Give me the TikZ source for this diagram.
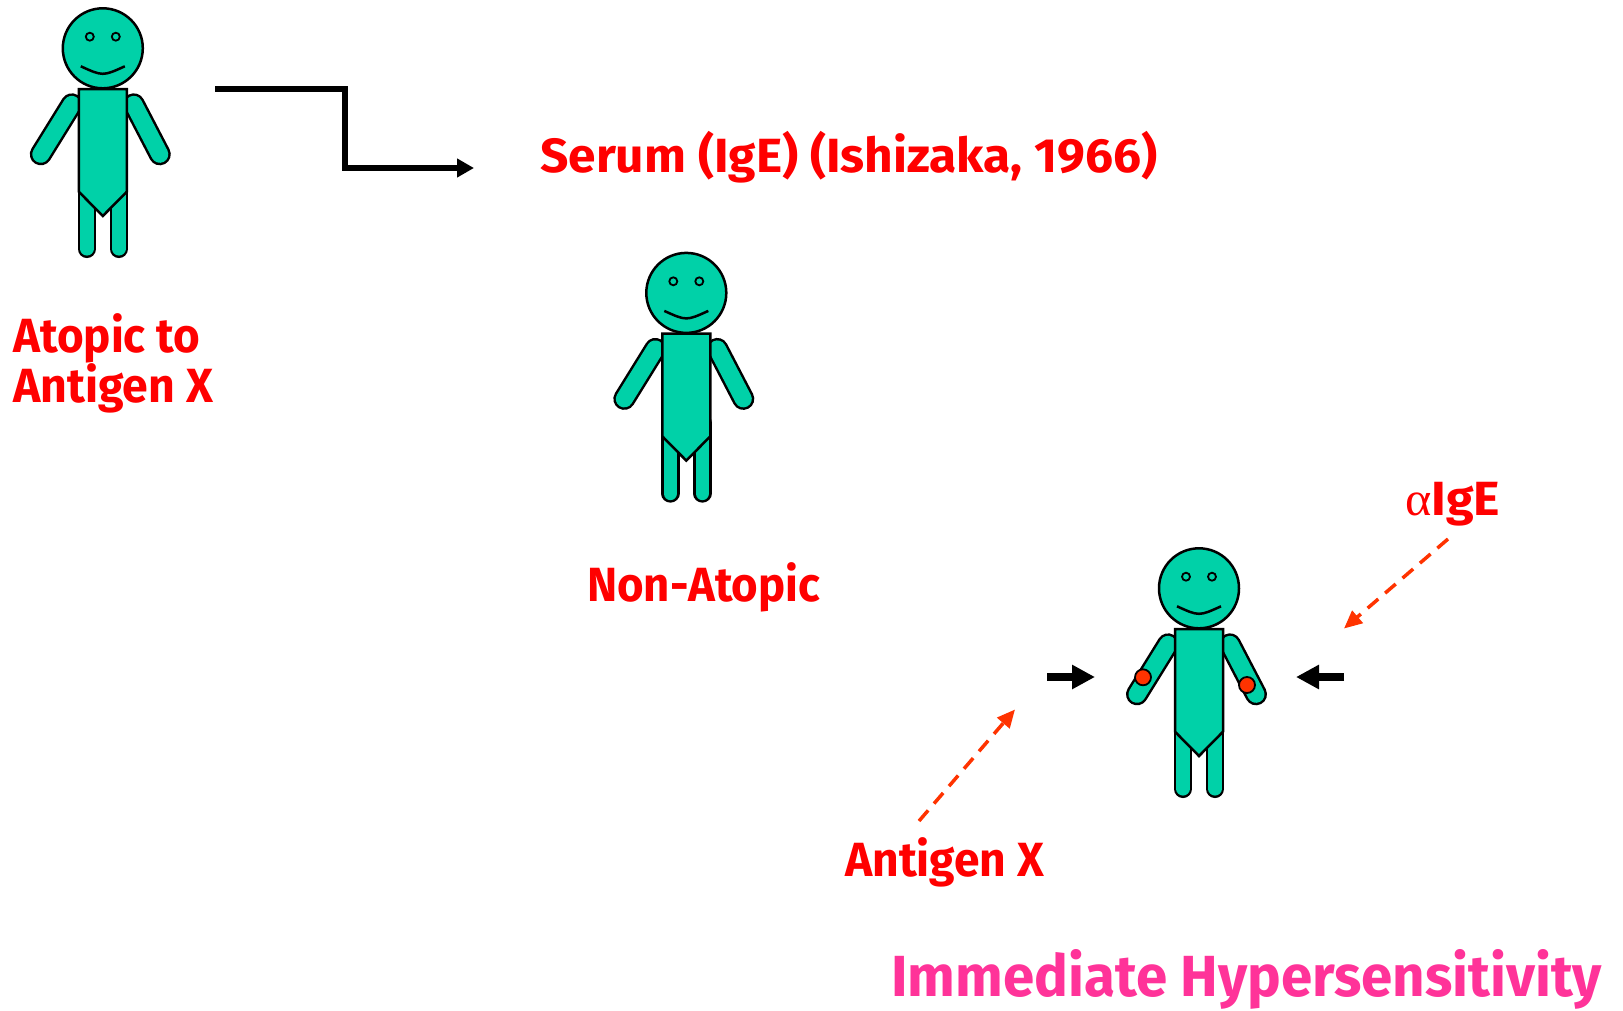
\documentclass[tikz,border=0pt]{standalone}
\usepackage{fontspec}
\setmainfont{Fira Sans}
\newfontfamily\greekfont{Liberation Serif}
\usetikzlibrary{arrows.meta}

\definecolor{skin}{RGB}{0,209,168}
\definecolor{spot}{RGB}{255,51,0}
\definecolor{lblred}{RGB}{255,0,0}
\definecolor{dashred}{RGB}{255,51,0}
\definecolor{titlepink}{RGB}{255,51,153}

% fit a text to a given width, keeping its natural height
\newcommand\fitw[2]{\resizebox{#1pt}{\height}{#2}}

% one limb: black outline under a skin-coloured stroke
\newcommand\limb[4]{%
  \draw[line width=#3pt, line cap=round, black] #1 -- #2;
  \draw[line width=#4pt, line cap=round, skin] #1 -- #2;}

% a smiling stick person; #1,#2 = centre of the head, #3 = 1 for spots on the wrists
\newcommand\drawperson[3]{%
  \begin{scope}[shift={(#1,#2)}]
    \limb{(-31,56)}{(-62,106)}{22}{17}
    \limb{(31,56)}{(57,106)}{22}{17}
    \limb{(-16,130)}{(-16,200.5)}{18.5}{13.5}
    \limb{(16,130)}{(16,200.5)}{18.5}{13.5}
    \filldraw[fill=skin, line width=2.5pt] (0,0) circle (40);
    \filldraw[fill=skin, line width=2.5pt, line join=miter]
      (-24,40.7) -- (24,40.7) -- (24,143.4) -- (0,167.7) -- (-24,143.4) -- cycle;
    \draw[line width=1.8pt] (-13,-11.6) circle (4) (13,-11.6) circle (4);
    \draw[line width=2.5pt] (-22,18) .. controls (0,28) .. (22,18);
    \ifnum#3=1
      \filldraw[fill=spot, line width=1.8pt] (-56,89) circle (8);
      \filldraw[fill=spot, line width=1.8pt] (48,96.7) circle (8);
    \fi
  \end{scope}}

\begin{document}
\begin{tikzpicture}[x=1pt, y=-1pt,
  lbl/.style={inner sep=0pt, anchor=base west, text=lblred,
    font=\bfseries\fontsize{48}{50}\selectfont},
  title/.style={inner sep=0pt, anchor=base west, text=titlepink,
    font=\bfseries\fontsize{58}{60}\selectfont},
  steparrow/.style={line width=6pt, line join=miter,
    -{Triangle[length=17pt, width=18pt]}},
  pusharrow/.style={line width=8.7pt, -{Triangle[length=23pt, width=23pt]}},
  dasharrow/.style={dashred, line width=3.5pt, dash pattern=on 14pt off 9pt,
    -{Triangle[length=18pt, width=16pt]}}]
\useasboundingbox (0,0) rectangle (1623,1010);

% three persons
\drawperson{102.8}{48.3}{0}
\drawperson{686.3}{292.9}{0}
\drawperson{1199}{588.3}{1}

% labels
\node[lbl] (atopic1) at (13,352) {\fitw{187}{Atopic to}};
\node[lbl] (atopic2) at (13,402) {\fitw{200}{Antigen X}};
\node[lbl] (serum) at (540,172) {\fitw{617}{Serum (IgE) (Ishizaka, 1966)}};
\node[lbl] (nonatopic) at (587,601) {\fitw{233}{Non-Atopic}};
\node[lbl] (aige) at (1405,515) {\fitw{95}{{\mdseries\greekfont α}IgE}};
\node[lbl] (antigen) at (845,876) {\fitw{199}{Antigen X}};
\node[title] (immediate) at (891,996) {\fitw{711}{Immediate Hypersensitivity}};

% serum transfer arrow
\coordinate (s0) at (215,88.5);
\coordinate (s1) at (344.7,88.5);
\coordinate (s2) at (344.7,168);
\coordinate (s3) at (474,168);
\draw[steparrow] (s0) -- (s1) -- (s2) -- (s3);

% challenge arrows
\coordinate (pl0) at (1047,677);
\coordinate (pl1) at (1095,677);
\coordinate (pr0) at (1344,677);
\coordinate (pr1) at (1296,677);
\draw[pusharrow] (pl0) -- (pl1);
\draw[pusharrow] (pr0) -- (pr1);

\coordinate (ag0) at (919,821);
\coordinate (ag1) at (1015,709.5);
\coordinate (ig0) at (1448,539);
\coordinate (ig1) at (1344,628.5);
\draw[dasharrow] (ag0) -- (ag1);
\draw[dasharrow] (ig0) -- (ig1);
\end{tikzpicture}
\end{document}
